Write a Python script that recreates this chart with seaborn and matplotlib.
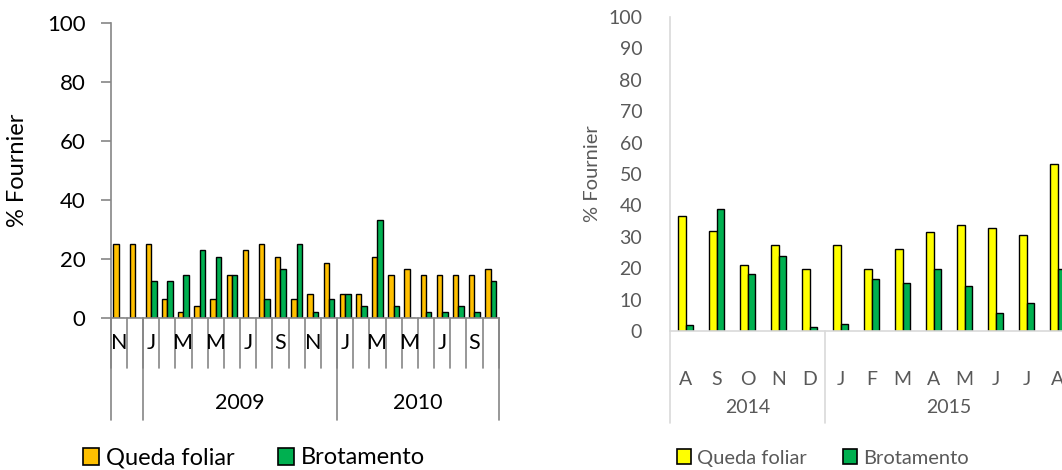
import numpy as np
import pandas as pd
import seaborn as sns
import matplotlib.pyplot as plt
import matplotlib.transforms as mtransforms
from matplotlib.patches import Patch

# ---- dados ----
meses_esq = ['N', 'D', 'J', 'F', 'M', 'A', 'M', 'J', 'J', 'A', 'S', 'O',
             'N', 'D', 'J', 'F', 'M', 'A', 'M', 'J', 'J', 'A', 'S', 'O']
anos_esq = ['', '2009', '2010']
n_meses_esq = [2, 12, 10]
queda_esq = [25, 25, 25, 6.3, 2.1, 4.2, 6.3, 14.6, 22.9, 25, 20.8, 6.3,
             8.3, 18.8, 8.3, 8.3, 20.8, 14.6, 16.7, 14.6, 14.6, 14.6, 14.6, 16.7]
brot_esq = [0, 0, 12.5, 12.5, 14.6, 22.9, 20.8, 14.6, 0, 6.3, 16.7, 25,
            2.1, 6.3, 8.3, 4.2, 33.3, 4.2, 0, 2.1, 2.1, 4.2, 2.1, 12.5]

meses_dir = ['A', 'S', 'O', 'N', 'D', 'J', 'F', 'M', 'A', 'M', 'J', 'J', 'A']
anos_dir = ['2014', '2015']
n_meses_dir = [5, 8]
queda_dir = [36.7, 31.9, 21.0, 27.4, 19.6, 27.3, 19.6, 26.2, 31.6, 33.8, 32.8, 30.5, 53.3]
brot_dir = [1.9, 38.9, 18.2, 24.0, 1.2, 2.3, 16.5, 15.4, 19.6, 14.3, 5.6, 8.9, 19.6]

series = ['Queda foliar', 'Brotamento']

sns.set_style('white')
plt.rcParams['font.family'] = ['Lato', 'DejaVu Sans']


def painel(ax, meses, queda, brot, cores, larg):
    n = len(meses)
    df = pd.DataFrame({
        'pos': list(range(n)) * 2,
        'valor': queda + brot,
        'serie': [series[0]] * n + [series[1]] * n})
    sns.barplot(data=df, x='pos', y='valor', hue='serie', hue_order=series,
                palette=cores, saturation=1, edgecolor='black', linewidth=1.0,
                width=larg, ax=ax, legend=False)
    ax.set_xlim(-0.5, n - 0.5)
    ax.set_ylim(0, 100)
    ax.set_xlabel('')
    ax.set_xticks([])
    for s in ['top', 'right']:
        ax.spines[s].set_visible(False)


def eixo_x(ax, meses, anos, n_anos, cor_txt, cor_lin, fs, y_mes, y_ano,
           y_sep, y_grp, passo, seps_mes):
    tr = mtransforms.blended_transform_factory(ax.transData, ax.transAxes)
    for i, m in enumerate(meses):
        if i % passo == 0:
            ax.text(i, y_mes, m, transform=tr, ha='center', va='center',
                    fontsize=fs, color=cor_txt)
    if seps_mes:
        for i in range(len(meses) + 1):
            ax.plot([i - 0.5, i - 0.5], [0, y_sep], transform=tr, color=cor_lin,
                    lw=1.2, clip_on=False)
    ini = 0
    for ano, n in zip(anos, n_anos):
        ax.plot([ini - 0.5, ini - 0.5], [0, y_grp], transform=tr, color=cor_lin,
                lw=1.2, clip_on=False)
        if ano:
            ax.text(ini + n / 2 - 0.5, y_ano, ano, transform=tr, ha='center',
                    va='center', fontsize=fs, color=cor_txt)
        ini += n
    ax.plot([ini - 0.5, ini - 0.5], [0, y_grp], transform=tr, color=cor_lin,
            lw=1.2, clip_on=False)


fig = plt.figure(figsize=(10.62, 4.70), dpi=100)

# ---- painel esquerdo ----
ax1 = fig.add_axes([110.7 / 1062, 1 - 318 / 470, 388 / 1062, 295 / 470])
cores1 = {series[0]: '#FFC000', series[1]: '#00B050'}
painel(ax1, meses_esq, queda_esq, brot_esq, cores1, 0.67)
ax1.set_yticks(range(0, 101, 20))
ax1.tick_params(axis='y', which='both', left=True, length=7.2, width=1.2,
                color='#868686', labelsize=16, labelcolor='black', pad=11)
for s in ['left', 'bottom']:
    ax1.spines[s].set_color('#868686')
    ax1.spines[s].set_linewidth(1.2)
ax1.set_ylabel('% Fournier', fontsize=17, color='black')
ax1.yaxis.set_label_coords(-0.212, 0.5)
eixo_x(ax1, meses_esq, anos_esq, n_meses_esq, 'black', '#868686', 15.5,
       -0.085, -0.288, -0.17, -0.346, 2, True)
h1 = [Patch(facecolor=cores1[s], edgecolor='black', linewidth=1.2) for s in series]
fig.legend(h1, series, loc='center', bbox_to_anchor=(254 / 1062, 1 - 458 / 470),
           ncol=2, frameon=False, fontsize=17, handlelength=0.7, handleheight=0.7,
           handletextpad=0.3, columnspacing=1.8, labelcolor='black')

# ---- painel direito ----
ax2 = fig.add_axes([670 / 1062, 1 - 331 / 470, 403 / 1062, 314 / 470])
cores2 = {series[0]: '#FFFF00', series[1]: '#00B050'}
painel(ax2, meses_dir, queda_dir, brot_dir, cores2, 0.48)
ax2.set_yticks(range(0, 101, 10))
ax2.tick_params(axis='y', which='both', left=False, labelsize=14,
                labelcolor='#595959', pad=16.5)
for s in ['left', 'bottom']:
    ax2.spines[s].set_color('#D9D9D9')
    ax2.spines[s].set_linewidth(1.2)
ax2.set_ylabel('% Fournier', fontsize=14.5, color='#595959')
ax2.yaxis.set_label_coords(-0.172, 0.5)
eixo_x(ax2, meses_dir, anos_dir, n_meses_dir, '#595959', '#D9D9D9', 14,
       -0.156, -0.245, 0, -0.293, 1, False)
h2 = [Patch(facecolor=cores2[s], edgecolor='black', linewidth=1.2) for s in series]
fig.legend(h2, series, loc='center', bbox_to_anchor=(823 / 1062, 1 - 458 / 470),
           ncol=2, frameon=False, fontsize=14.5, handlelength=0.7, handleheight=0.7,
           handletextpad=0.3, columnspacing=1.8, labelcolor='#595959')

fig.savefig('out.png', dpi=100)
